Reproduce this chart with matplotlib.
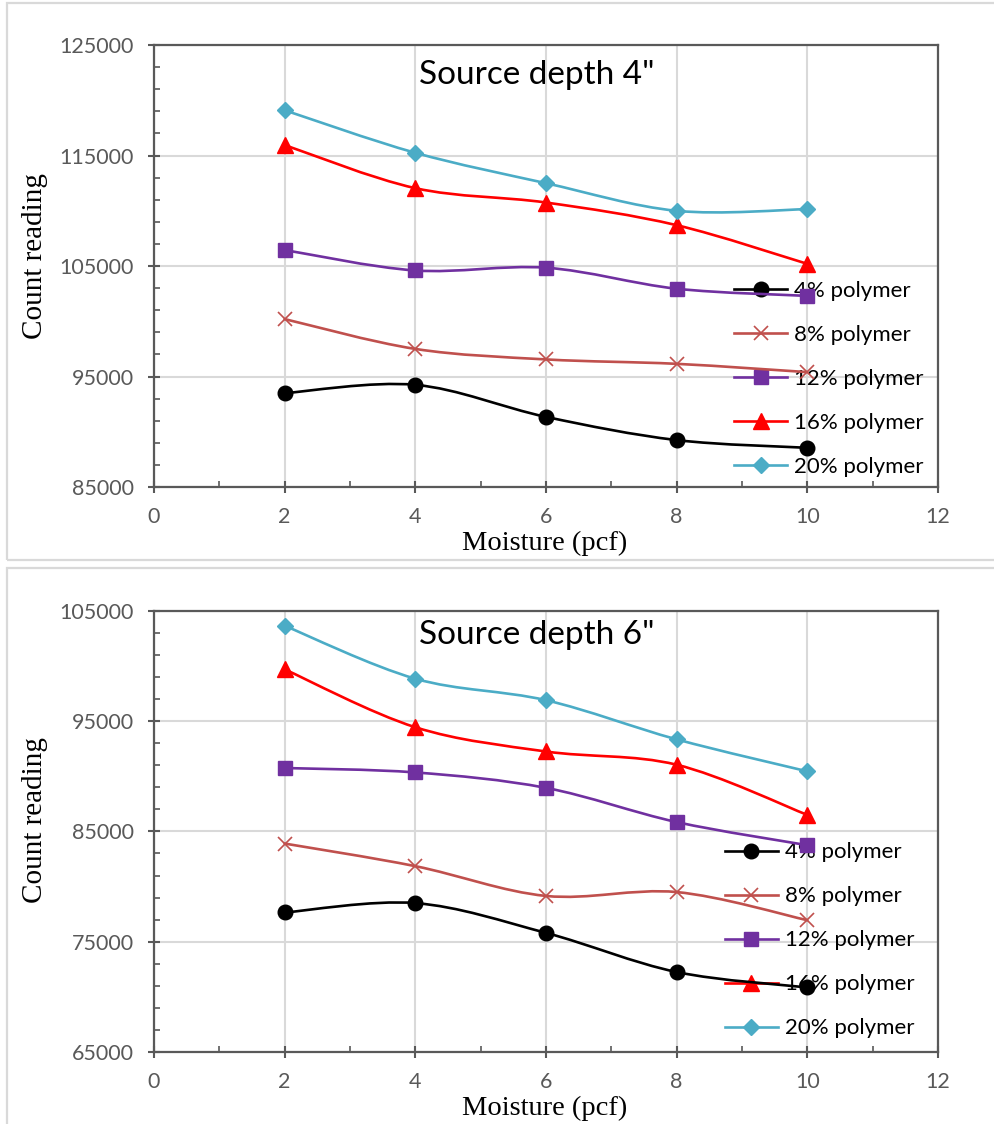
import matplotlib
matplotlib.use("Agg")
import matplotlib.pyplot as plt
from matplotlib.path import Path
from matplotlib.patches import PathPatch, Rectangle
from matplotlib.lines import Line2D
from matplotlib.ticker import MultipleLocator

# ---- data -------------------------------------------------------------
moisture = [2, 4, 6, 8, 10]
series_labels = ["4% polymer", "8% polymer", "12% polymer", "16% polymer", "20% polymer"]

# source depth 4"
depth4_p4 = [93500, 94250, 91350, 89250, 88550]
depth4_p8 = [100200, 97500, 96550, 96150, 95400]
depth4_p12 = [106450, 104600, 104850, 102950, 102300]
depth4_p16 = [115950, 112050, 110750, 108700, 105200]
depth4_p20 = [119100, 115250, 112500, 110000, 110150]

# source depth 6"
depth6_p4 = [77650, 78500, 75800, 72250, 70850]
depth6_p8 = [83900, 81850, 79150, 79500, 76950]
depth6_p12 = [90750, 90350, 88950, 85850, 83750]
depth6_p16 = [99700, 94450, 92250, 91050, 86500]
depth6_p20 = [103650, 98850, 96900, 93350, 90450]

titles = ['Source depth 4"', 'Source depth 6"']
x_label = "Moisture (pcf)"
y_label = "Count reading"

# ---- styling ----------------------------------------------------------
colors = ["#000000", "#C0504D", "#7030A0", "#FF0000", "#4BACC6"]
markers = ["o", "x", "s", "^", "D"]
msizes = [10.5, 9.5, 10, 11, 8.4]
SANS = ["Lato", "DejaVu Sans"]
SERIF = ["Liberation Serif", "DejaVu Serif"]
AXIS_GRAY = "#595959"
GRID_GRAY = "#D9D9D9"


def smooth_path(xs, ys):
    """Cubic Bezier through the points (Catmull-Rom style control points)."""
    pts = list(zip(xs, ys))
    n = len(pts)
    verts = [pts[0]]
    codes = [Path.MOVETO]
    for i in range(n - 1):
        p0 = pts[i - 1] if i > 0 else pts[i]
        p1 = pts[i]
        p2 = pts[i + 1]
        p3 = pts[i + 2] if i + 2 < n else pts[i + 1]
        c1 = (p1[0] + (p2[0] - p0[0]) / 6.0, p1[1] + (p2[1] - p0[1]) / 6.0)
        c2 = (p2[0] - (p3[0] - p1[0]) / 6.0, p2[1] - (p3[1] - p1[1]) / 6.0)
        verts += [c1, c2, p2]
        codes += [Path.CURVE4] * 3
    return Path(verts, codes)


def draw_panel(ax, series, ylim, title, title_y, legend_x, legend_y):
    ax.set_xlim(0, 12)
    ax.set_ylim(*ylim)
    ax.xaxis.set_major_locator(MultipleLocator(2))
    ax.xaxis.set_minor_locator(MultipleLocator(1))
    ax.yaxis.set_major_locator(MultipleLocator(10000, offset=5000))
    ax.yaxis.set_minor_locator(MultipleLocator(2000, offset=1000))
    ax.grid(True, which="major", color=GRID_GRAY, lw=1.5)
    ax.set_axisbelow(True)
    for sp in ax.spines.values():
        sp.set_color(AXIS_GRAY)
        sp.set_linewidth(1.6)
    ax.tick_params(which="major", direction="inout", length=9, width=1.5,
                   color=AXIS_GRAY, labelcolor=AXIS_GRAY, labelsize=15.5)
    ax.tick_params(which="minor", direction="in", length=4.5, width=1.2,
                   color=AXIS_GRAY)
    ax.tick_params(axis="y", which="major", pad=10)
    ax.tick_params(axis="x", which="major", pad=10)
    for lab in ax.get_xticklabels() + ax.get_yticklabels():
        lab.set_fontfamily(SANS)

    handles = []
    for vals, c, m, ms, lab in zip(series, colors, markers, msizes, series_labels):
        ax.add_patch(PathPatch(smooth_path(moisture, vals), facecolor="none",
                               edgecolor=c, lw=1.9, zorder=3,
                               capstyle="round", joinstyle="round"))
        mew = 1.2 if m == "x" else 1.0
        ax.plot(moisture, vals, linestyle="none", marker=m, ms=ms, color=c,
                mec=c, mew=mew, zorder=4)
        handles.append(Line2D([], [], color=c, lw=1.9, marker=m, ms=ms,
                              mec=c, mew=mew))

    ax.text(0.488, title_y, title, transform=ax.transAxes, ha="center",
            va="center", fontsize=24, family=SANS, color="black")

    leg = ax.legend(handles, series_labels, loc="center left",
                    bbox_to_anchor=(legend_x, legend_y), frameon=False,
                    borderpad=0, borderaxespad=0, handlelength=2.4,
                    handletextpad=0.3, labelspacing=1.08, numpoints=1,
                    prop={"family": SANS, "size": 16})
    leg.set_zorder(2)


fig = plt.figure(figsize=(9.94, 11.24), dpi=100)

# light chart frames
fig.add_artist(Rectangle((0.0075, 0.5022), 1.1, 0.4947, transform=fig.transFigure,
                         facecolor="none", edgecolor=GRID_GRAY, lw=1.6))
fig.add_artist(Rectangle((0.0075, -0.05), 1.1, 0.5447, transform=fig.transFigure,
                         facecolor="none", edgecolor=GRID_GRAY, lw=1.6))

ax_top = fig.add_axes([0.1549, 0.5667, 0.7887, 0.3932])
ax_bot = fig.add_axes([0.1549, 0.0641, 0.7887, 0.3924])

draw_panel(ax_top, [depth4_p4, depth4_p8, depth4_p12, depth4_p16, depth4_p20],
           (85000, 125000), titles[0], 0.932, 0.7398, 0.2455)
draw_panel(ax_bot, [depth6_p4, depth6_p8, depth6_p12, depth6_p16, depth6_p20],
           (65000, 105000), titles[1], 0.946, 0.728, 0.253)

# axis titles
fig.text(35 / 994, 1 - 256 / 1124, y_label, rotation=90, ha="center", va="center",
         fontsize=21, family=SERIF)
fig.text(545 / 994, 1 - 543 / 1124, x_label, ha="center", va="center",
         fontsize=20.5, family=SERIF)
fig.text(35 / 994, 1 - 820 / 1124, y_label, rotation=90, ha="center", va="center",
         fontsize=21, family=SERIF)
fig.text(545 / 994, 1 - 1108 / 1124, x_label, ha="center", va="center",
         fontsize=20.5, family=SERIF)

fig.savefig("out.png", dpi=100)
